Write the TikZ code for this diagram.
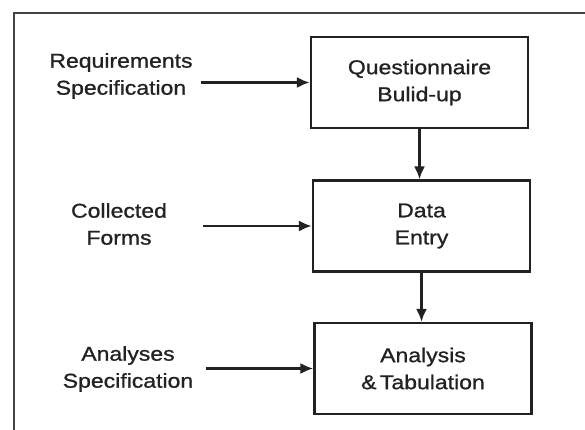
\documentclass[tikz,border=0pt]{standalone}
\usepackage{fontspec}
\setmainfont{Liberation Sans}[FakeStretch=1.15,FakeBold=1]
\usetikzlibrary{arrows.meta}
\definecolor{ink}{HTML}{222222}
\begin{document}
\begin{tikzpicture}[x=1pt,y=-1pt,
  every node/.style={text=ink},
  txt/.style={align=center,font=\fontsize{20}{27}\selectfont,inner sep=0pt},
  procbox/.style={draw=ink,line width=2.4pt,minimum width=217pt,minimum height=91pt,
    align=center,font=\fontsize{20}{27}\selectfont,inner sep=0pt},
  arr/.style={draw=ink,line width=2.2pt,-{Latex[length=13pt,width=11pt]}},
  frame/.style={draw=ink!85,line width=2pt}]
\useasboundingbox (0,0) rectangle (585,430);
\draw[frame] (14,431) -- (14,13) -- (586,13);
\node[procbox] (q) at (419.5,82.5) {Questionnaire\\Bulid-up};
\node[procbox] (d) at (421.5,226) {Data\\Entry};
\node[procbox] (a) at (423,368.5) {Analysis\\\&\,Tabulation};
\node[txt] (req) at (121,76) {Requirements\\Specification};
\node[txt] (col) at (119,224) {Collected\\Forms};
\node[txt] (ana) at (128,369) {Analyses\\Specification};
\coordinate (s1) at (201,82.5);
\coordinate (s2) at (203,226);
\coordinate (s3) at (206,368.5);
\draw[arr] (s1) -- (q.west);
\draw[arr] (s2) -- (d.west);
\draw[arr] (s3) -- (a.west);
\draw[arr] (q.south) -- (q.south |- d.north);
\draw[arr] (d.south) -- (d.south |- a.north);
\end{tikzpicture}
\end{document}
